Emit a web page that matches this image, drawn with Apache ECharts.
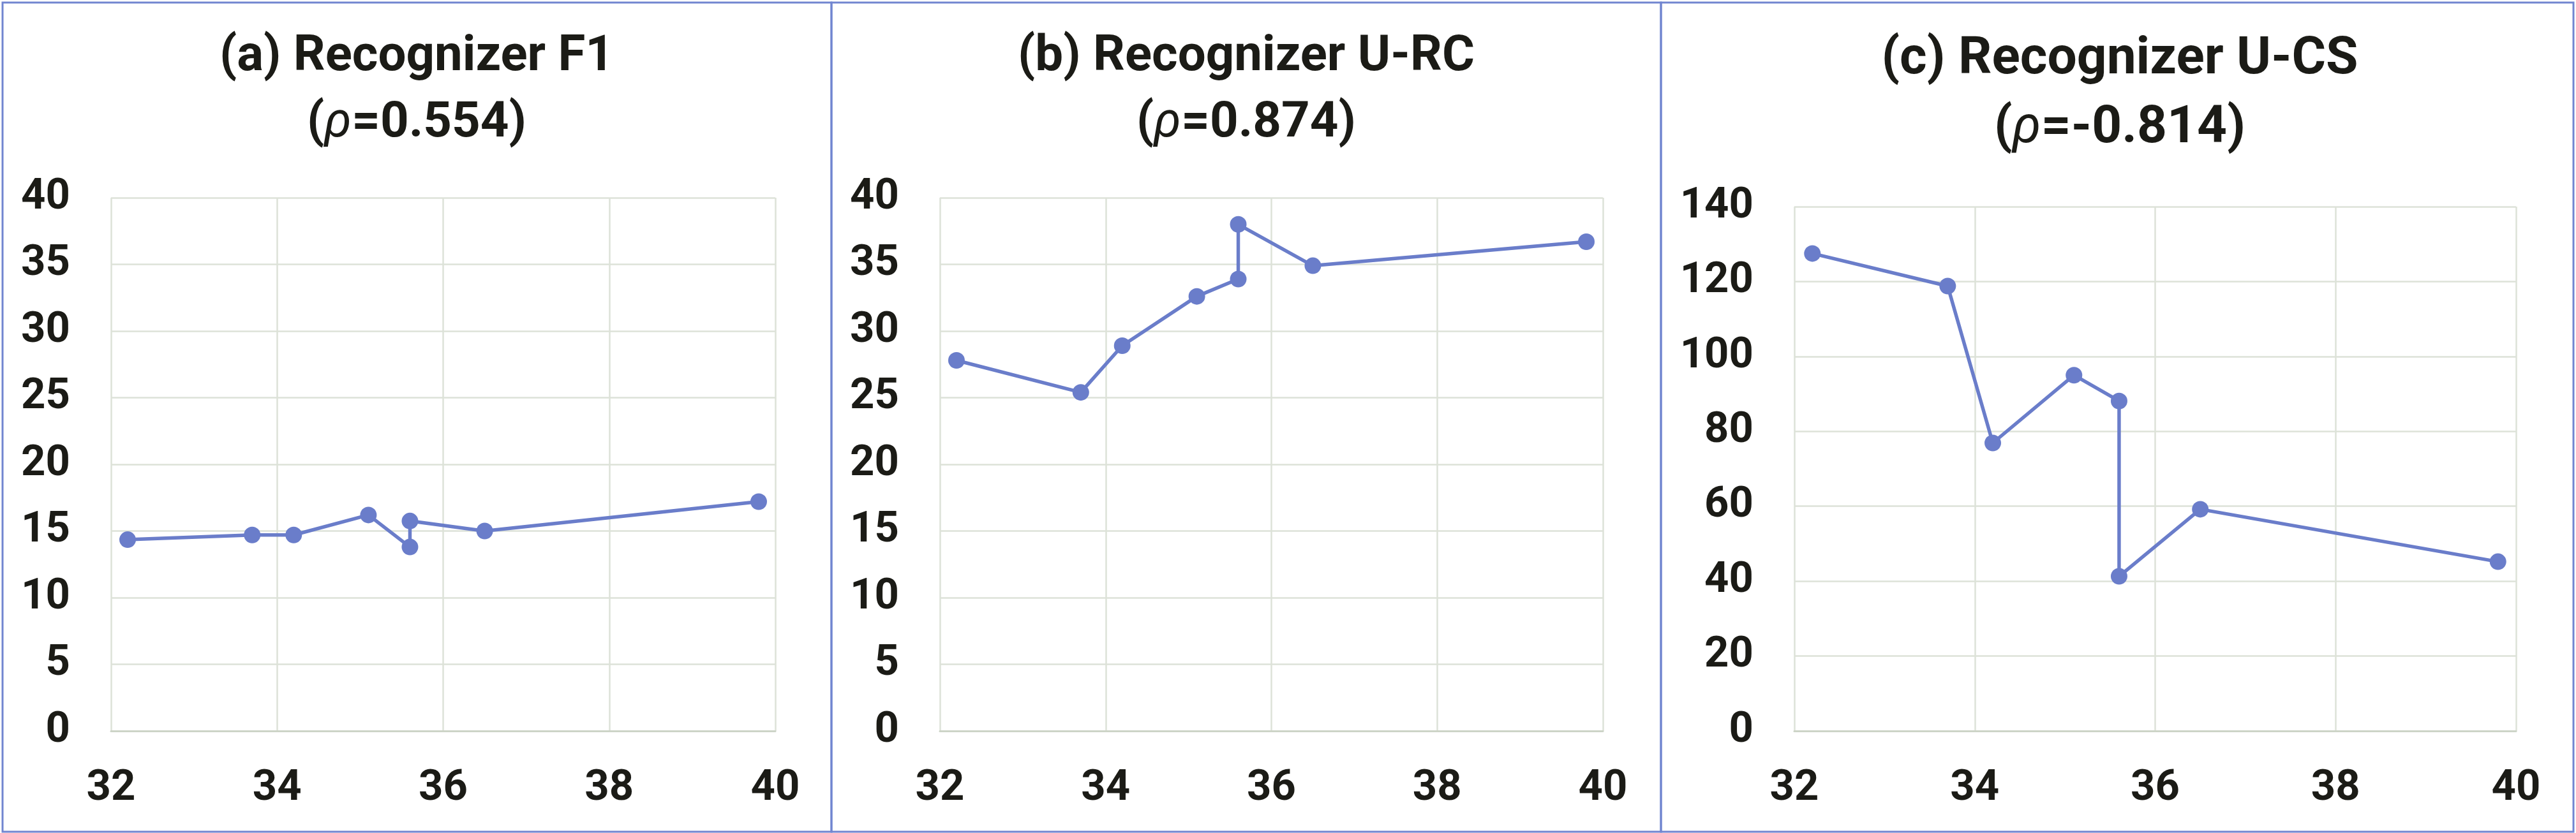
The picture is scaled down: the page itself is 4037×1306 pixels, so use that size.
<!DOCTYPE html>
<html>
<head>
<meta charset="utf-8">
<script src="https://cdn.jsdelivr.net/npm/echarts@6/dist/echarts.min.js"></script>
<style>
html,body{margin:0;padding:0;background:#fff;}
#chart{width:4037px;height:1306px;}
</style>
</head>
<body>
<div id="chart"></div>
<script>
// Data (x = shared horizontal value, y = per-panel metric)
var xValues = [32.2, 33.7, 34.2, 35.1, 35.6, 35.6, 36.5, 39.8];
var f1Values = [14.35, 14.7, 14.7, 16.2, 13.8, 15.75, 15.0, 17.2];
var urcValues = [27.8, 25.4, 28.9, 32.6, 33.9, 38.0, 34.9, 36.7];
var ucsValues = [127.5, 118.8, 76.9, 95.0, 88.1, 41.3, 59.2, 45.2];

var titleMain = ['(a) Recognizer F1', '(b) Recognizer U-RC', '(c) Recognizer U-CS'];
var rhoValues = ['0.554', '0.874', '-0.814'];
var xTicks = [32, 34, 36, 38, 40];

function pairs(ys){ return xValues.map(function(x,i){ return [x, ys[i]]; }); }

var seriesColor = '#6a7dca';
var gridColor = '#dde2d8';
var textColor = '#1b1b16';
var labelFont = {fontFamily:'Roboto', fontWeight:'bold', fontSize:67, color:textColor};

var grids = [
  {left:174, top:310, width:1041, height:836},
  {left:1473, top:310, width:1039, height:836},
  {left:2812, top:324, width:1131, height:822}
];
var yCfg = [{max:40, interval:5},{max:40, interval:5},{max:140, interval:20}];
var panelCenters = [653, 1953, 3322];
var titleTops = [38, 38, 40];
var titleSizes = [78, 78, 82];
var titleLH = [104, 104, 108];

var option = {
  backgroundColor:'#ffffff',
  animation:false,
  title: titleMain.map(function(t,i){
    return {
      text: '{t|' + t + '}\n{t|(}{i|ρ}{t|=' + rhoValues[i] + ')}',
      left: panelCenters[i], top: titleTops[i], textAlign:'center', padding:0,
      textStyle:{
        rich:{
          t:{fontFamily:'Roboto', fontWeight:'bold', fontSize:titleSizes[i], color:textColor, lineHeight:titleLH[i]},
          i:{fontFamily:'Roboto', fontWeight:'normal', fontStyle:'italic', fontSize:titleSizes[i], color:textColor, lineHeight:titleLH[i]}
        }
      }
    };
  }),
  grid: grids.map(function(g){ return Object.assign({containLabel:false}, g); }),
  xAxis: grids.map(function(g,i){
    return {
      type:'value', gridIndex:i, min:32, max:40, interval:2,
      axisLine:{show:true, lineStyle:{color:'#cdd4c7', width:3}},
      axisTick:{show:false},
      splitLine:{show:true, lineStyle:{color:gridColor, width:2.5}},
      axisLabel:Object.assign({margin:58}, labelFont)
    };
  }),
  yAxis: grids.map(function(g,i){
    return {
      type:'value', gridIndex:i, min:0, max:yCfg[i].max, interval:yCfg[i].interval,
      axisLine:{show:false}, axisTick:{show:false},
      splitLine:{show:true, lineStyle:{color:gridColor, width:2.5}},
      axisLabel:Object.assign({margin:64}, labelFont)
    };
  }),
  series: [f1Values, urcValues, ucsValues].map(function(v,i){
    return {
      type:'line', xAxisIndex:i, yAxisIndex:i, data:pairs(v),
      symbol:'circle', symbolSize:26,
      lineStyle:{color:seriesColor, width:5.5},
      itemStyle:{color:seriesColor}
    };
  }),
  graphic: [
    {type:'rect', shape:{x:4, y:4, width:1299, height:1300}, style:{fill:'none', stroke:'#7185d0', lineWidth:3}},
    {type:'rect', shape:{x:1303, y:4, width:1300, height:1300}, style:{fill:'none', stroke:'#7185d0', lineWidth:3}},
    {type:'rect', shape:{x:2603, y:4, width:1430, height:1300}, style:{fill:'none', stroke:'#7185d0', lineWidth:3}}
  ]
};

var chart = echarts.init(document.getElementById('chart'), null, {renderer:'canvas'});
chart.setOption(option);
</script>
</body>
</html>
